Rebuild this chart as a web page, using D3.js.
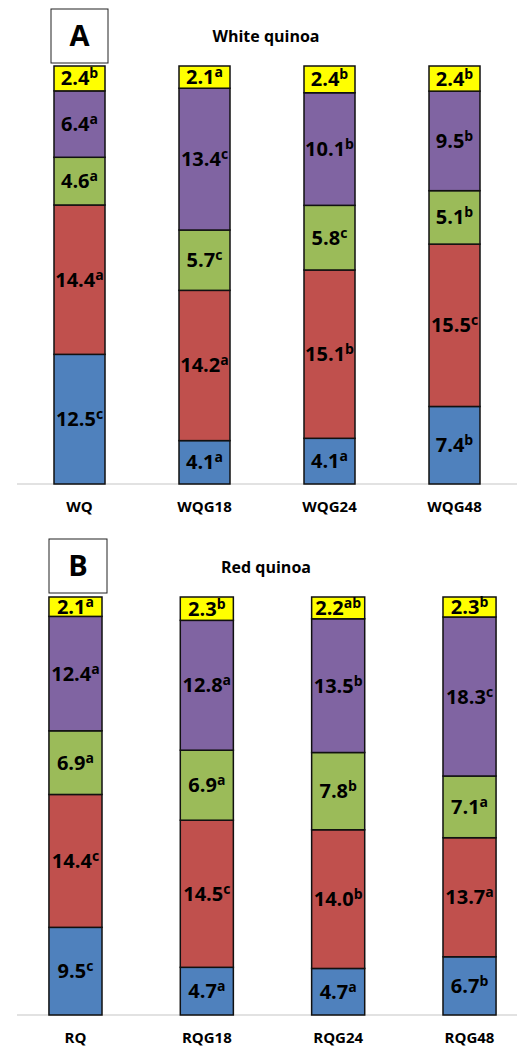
<!DOCTYPE html>
<html>
<head>
<meta charset="utf-8">
<script src="https://cdn.jsdelivr.net/npm/d3@7"></script>
<style>
  html, body { margin: 0; padding: 0; background: #fff; }
  svg { display: block; }
  text { font-family: "Open Sans", "Liberation Sans", sans-serif; font-weight: 700; fill: #000; }
</style>
</head>
<body>
<svg id="chart" width="520" height="1046"></svg>
<script>
// ---- data ----
const whiteCategories = ["WQ", "WQG18", "WQG24", "WQG48"];
const redCategories = ["RQ", "RQG18", "RQG24", "RQG48"];

// stacked from bottom (part1) to top (part5)
const whitePart1 = [12.5, 4.1, 4.1, 7.4];
const whitePart2 = [14.4, 14.2, 15.1, 15.5];
const whitePart3 = [4.6, 5.7, 5.8, 5.1];
const whitePart4 = [6.4, 13.4, 10.1, 9.5];
const whitePart5 = [2.4, 2.1, 2.4, 2.4];

const whiteLetters1 = ["c", "a", "a", "b"];
const whiteLetters2 = ["a", "a", "b", "c"];
const whiteLetters3 = ["a", "c", "c", "b"];
const whiteLetters4 = ["a", "c", "b", "b"];
const whiteLetters5 = ["b", "a", "b", "b"];

const redPart1 = [9.5, 4.7, 4.7, 6.7];
const redPart2 = [14.4, 14.5, 14.0, 13.7];
const redPart3 = [6.9, 6.9, 7.8, 7.1];
const redPart4 = [12.4, 12.8, 13.5, 18.3];
const redPart5 = [2.1, 2.3, 2.2, 2.3];

const redLetters1 = ["c", "a", "a", "b"];
const redLetters2 = ["c", "c", "b", "a"];
const redLetters3 = ["a", "a", "b", "a"];
const redLetters4 = ["a", "a", "b", "c"];
const redLetters5 = ["a", "b", "ab", "b"];

const partKeys = ["part1", "part2", "part3", "part4", "part5"];
const partColors = ["#4F81BD", "#C0504D", "#9BBB59", "#8064A2", "#FFFF00"];

// ---- drawing ----
const svg = d3.select("#chart");

function buildRows(categories, parts, letters) {
  return categories.map((c, i) => {
    const row = { category: c };
    partKeys.forEach((k, j) => {
      row[k] = parts[j][i];
      row[k + "_sig"] = letters[j][i];
    });
    return row;
  });
}

function drawPanel(cfg) {
  const g = svg.append("g");
  const rows = buildRows(cfg.categories, cfg.parts, cfg.letters);

  const x = d3.scaleBand()
    .domain(cfg.categories)
    .range(cfg.xRange)
    .paddingInner(cfg.pad)
    .paddingOuter(cfg.pad / 2);

  const y = d3.scaleLinear().domain([0, 1]).range([cfg.bottom, cfg.top]);

  const series = d3.stack()
    .keys(partKeys)
    .offset(d3.stackOffsetExpand)(rows);

  // baseline
  g.append("line")
    .attr("x1", 17).attr("x2", 517)
    .attr("y1", cfg.bottom).attr("y2", cfg.bottom)
    .attr("stroke", "#d9d9d9").attr("stroke-width", 1.5);

  const layer = g.selectAll("g.layer")
    .data(series)
    .join("g")
    .attr("class", "layer")
    .attr("fill", (d, i) => partColors[i]);

  layer.selectAll("rect")
    .data(d => d)
    .join("rect")
    .attr("x", d => x(d.data.category))
    .attr("width", x.bandwidth())
    .attr("y", d => y(d[1]))
    .attr("height", d => y(d[0]) - y(d[1]))
    .attr("stroke", "#111")
    .attr("stroke-width", 1.5);

  // value labels with significance letters
  series.forEach(s => {
    s.forEach(d => {
      const cx = x(d.data.category) + x.bandwidth() / 2;
      const cy = (y(d[0]) + y(d[1])) / 2;
      const t = g.append("text")
        .attr("x", cx)
        .attr("y", cy + 7)
        .attr("text-anchor", "middle")
        .style("font-size", "20px");
      t.append("tspan").text(d.data[s.key].toFixed(1));
      t.append("tspan")
        .attr("dy", -7)
        .style("font-size", "14px")
        .text(d.data[s.key + "_sig"]);
    });
  });

  // category labels
  g.selectAll("text.cat")
    .data(cfg.categories)
    .join("text")
    .attr("class", "cat")
    .attr("x", d => x(d) + x.bandwidth() / 2)
    .attr("y", cfg.bottom + 28)
    .attr("text-anchor", "middle")
    .style("font-size", "15px")
    .text(d => d);

  // panel letter box
  g.append("rect")
    .attr("x", cfg.box[0]).attr("y", cfg.box[1])
    .attr("width", cfg.box[2]).attr("height", cfg.box[3])
    .attr("fill", "#fff").attr("stroke", "#222").attr("stroke-width", 1);
  g.append("text")
    .attr("x", cfg.box[0] + cfg.box[2] / 2)
    .attr("y", cfg.box[1] + cfg.box[3] / 2 + 10)
    .attr("text-anchor", "middle")
    .style("font-size", "29px")
    .text(cfg.letter);

  // title
  g.append("text")
    .attr("x", 266)
    .attr("y", cfg.titleY)
    .attr("text-anchor", "middle")
    .style("font-size", "16px")
    .text(cfg.title);
}

drawPanel({
  categories: whiteCategories,
  parts: [whitePart1, whitePart2, whitePart3, whitePart4, whitePart5],
  letters: [whiteLetters1, whiteLetters2, whiteLetters3, whiteLetters4, whiteLetters5],
  xRange: [17, 517],
  pad: 0.592,
  top: 66,
  bottom: 484,
  box: [51, 9, 57, 54],
  letter: "A",
  title: "White quinoa",
  titleY: 42
});

drawPanel({
  categories: redCategories,
  parts: [redPart1, redPart2, redPart3, redPart4, redPart5],
  letters: [redLetters1, redLetters2, redLetters3, redLetters4, redLetters5],
  xRange: [9.8, 535.2],
  pad: 0.596,
  top: 597,
  bottom: 1015,
  box: [49, 539, 58, 54],
  letter: "B",
  title: "Red quinoa",
  titleY: 573
});
</script>
</body>
</html>
